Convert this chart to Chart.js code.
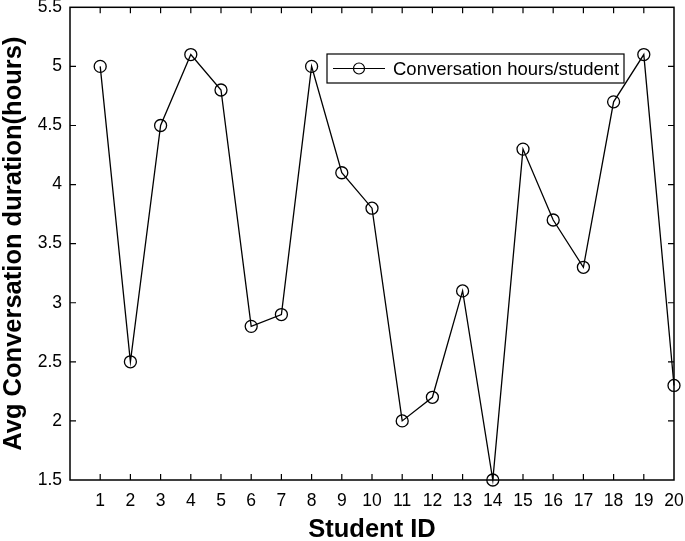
<!DOCTYPE html>
<html lang="en">
<head>
  <meta charset="UTF-8">
  <title>Conversation hours per student</title>
  <script src="https://cdn.jsdelivr.net/npm/chart.js"></script>
  <style>
    body { margin: 0; background: #fff; }
    #wrap { width: 685px; height: 541px; }
  </style>
</head>
<body>
  <div id="wrap"><canvas id="chart"></canvas></div>
  <script>
    // data
    const studentIds = [1, 2, 3, 4, 5, 6, 7, 8, 9, 10, 11, 12, 13, 14, 15, 16, 17, 18, 19, 20];
    const hours = [5.0, 2.5, 4.5, 5.1, 4.8, 2.8, 2.9, 5.0, 4.1, 3.8, 2.0, 2.2, 3.1, 1.5, 4.3, 3.7, 3.3, 4.7, 5.1, 2.3];
    const seriesLabel = 'Conversation hours/student';
    const xTitle = 'Student ID';
    const yTitle = 'Avg Conversation duration(hours)';

    const tickFont = { family: 'Liberation Sans, Arial, sans-serif', size: 17.5 };
    const titleFont = { family: 'Liberation Sans, Arial, sans-serif', size: 25.5, weight: 'bold', lineHeight: 1 };

    // box, inward ticks and the legend, matlab style
    const boxPlugin = {
      id: 'box',
      afterDraw(chart) {
        const { ctx, chartArea: a, scales } = chart;
        ctx.save();
        ctx.strokeStyle = '#000';
        ctx.lineWidth = 1.5;
        ctx.strokeRect(a.left, a.top, a.right - a.left, a.bottom - a.top);
        ctx.lineWidth = 1.2;
        ctx.beginPath();
        scales.x.ticks.forEach(t => {
          if (t.value <= 0 || t.value >= 20) return;
          const px = scales.x.getPixelForValue(t.value);
          ctx.moveTo(px, a.bottom); ctx.lineTo(px, a.bottom - 6);
          ctx.moveTo(px, a.top); ctx.lineTo(px, a.top + 6);
        });
        scales.y.ticks.forEach(t => {
          if (t.value <= 1.5 || t.value >= 5.5) return;
          const py = scales.y.getPixelForValue(t.value);
          ctx.moveTo(a.left, py); ctx.lineTo(a.left + 6, py);
          ctx.moveTo(a.right, py); ctx.lineTo(a.right - 6, py);
        });
        ctx.stroke();

        // legend box
        const lx = 327, ly = 54, lw = 297, lh = 29;
        ctx.fillStyle = '#fff';
        ctx.fillRect(lx, ly, lw, lh);
        ctx.lineWidth = 1.2;
        ctx.strokeRect(lx, ly, lw, lh);
        const cy = ly + lh / 2;
        ctx.beginPath();
        ctx.moveTo(lx + 6, cy); ctx.lineTo(lx + 58, cy);
        ctx.stroke();
        ctx.beginPath();
        ctx.arc(lx + 32, cy, 5.5, 0, Math.PI * 2);
        ctx.stroke();
        ctx.fillStyle = '#000';
        ctx.font = '18.5px Liberation Sans, Arial, sans-serif';
        ctx.textBaseline = 'middle';
        ctx.fillText(seriesLabel, lx + 66, cy + 1);
        ctx.restore();
      }
    };

    new Chart(document.getElementById('chart'), {
      type: 'line',
      data: {
        labels: studentIds,
        datasets: [{
          label: seriesLabel,
          data: studentIds.map((id, i) => ({ x: id, y: hours[i] })),
          borderColor: '#000',
          borderWidth: 1.3,
          pointRadius: 6,
          pointHoverRadius: 6,
          pointBorderWidth: 1.3,
          pointBackgroundColor: 'rgba(0,0,0,0)',
          pointBorderColor: '#000',
          tension: 0,
          clip: false
        }]
      },
      plugins: [boxPlugin],
      options: {
        responsive: true,
        maintainAspectRatio: false,
        animation: false,
        layout: { padding: { top: 4, right: 11, left: 0, bottom: 0 } },
        plugins: {
          legend: { display: false },
          tooltip: { enabled: false }
        },
        scales: {
          x: {
            type: 'linear',
            min: 0,
            max: 20,
            grid: { display: false, drawTicks: false },
            border: { display: false },
            ticks: {
              stepSize: 1,
              color: '#000',
              font: tickFont,
              padding: 11,
              maxRotation: 0,
              callback: v => (v === 0 ? '' : v)
            },
            title: { display: true, text: xTitle, color: '#000', font: titleFont, padding: { top: 7, bottom: -2 } },
            afterFit: s => { s.height = 61; s.paddingLeft = 0; s.paddingRight = 0; }
          },
          y: {
            min: 1.5,
            max: 5.5,
            grid: { display: false, drawTicks: false },
            border: { display: false },
            ticks: { stepSize: 0.5, color: '#000', font: tickFont, padding: 8, callback: v => String(v) },
            title: { display: true, text: yTitle, color: '#000', font: titleFont, padding: { top: 1, bottom: 0 } },
            afterFit: s => { s.width = 70; s.paddingTop = 0; s.paddingBottom = 0; }
          }
        }
      }
    });
  </script>
</body>
</html>
